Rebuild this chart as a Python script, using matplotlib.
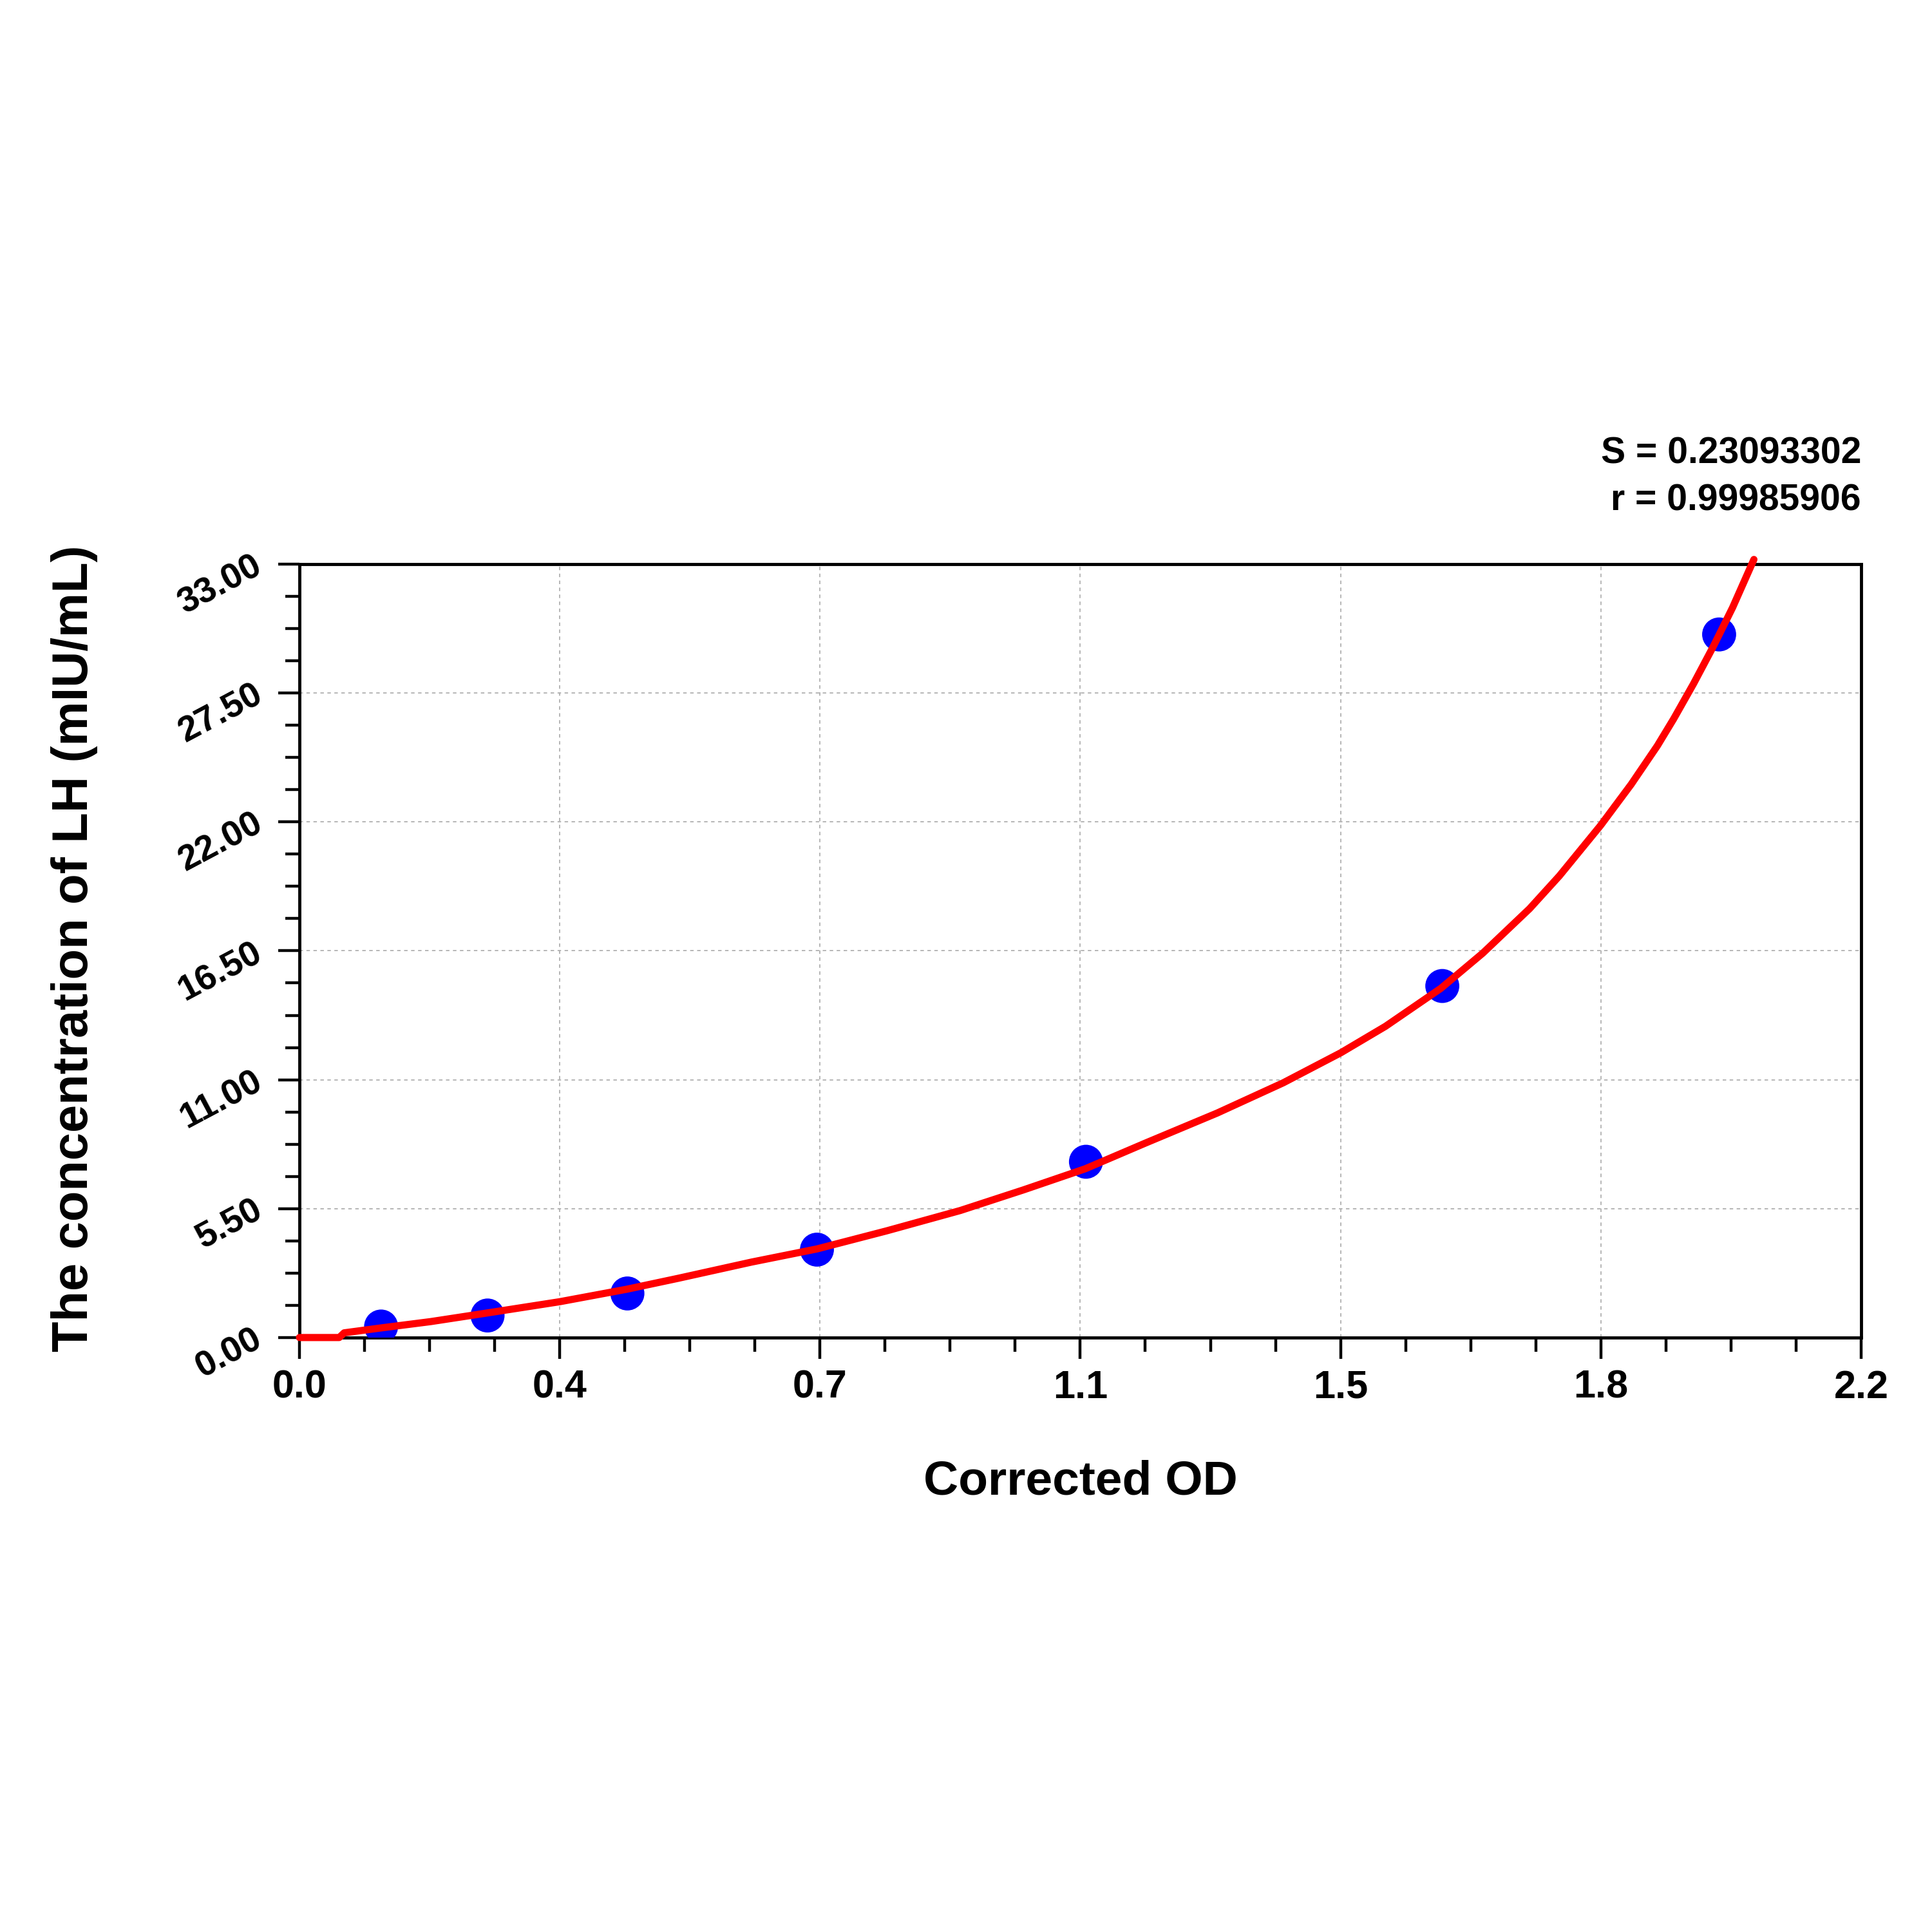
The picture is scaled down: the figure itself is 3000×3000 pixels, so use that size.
import numpy as np
import matplotlib
matplotlib.use('Agg')
import matplotlib.pyplot as plt
from matplotlib.ticker import AutoMinorLocator

plt.rcParams['font.family'] = ['Liberation Sans', 'DejaVu Sans']
plt.rcParams['font.weight'] = 'bold'

# standard points
od_values = [0.115, 0.265, 0.462, 0.729, 1.108, 1.610, 2.000]
conc_values = [0.47, 0.94, 1.88, 3.75, 7.5, 15.0, 30.0]

# fitted curve
curve_od = [0.0, 0.056, 0.063, 0.115, 0.185, 0.265, 0.367, 0.461, 0.534, 0.637,
            0.729, 0.827, 0.931, 1.020, 1.107, 1.192, 1.293, 1.386, 1.467, 1.530,
            1.608, 1.667, 1.733, 1.775, 1.833, 1.876, 1.913, 1.936, 1.964, 1.992,
            2.019, 2.049]
curve_conc = [0.0, 0.0, 0.20, 0.41, 0.68, 1.05, 1.53, 2.06, 2.53, 3.22,
              3.78, 4.55, 5.42, 6.30, 7.20, 8.30, 9.58, 10.87, 12.15, 13.28,
              14.90, 16.40, 18.30, 19.70, 21.85, 23.60, 25.25, 26.40, 27.90, 29.50,
              31.15, 33.20]

x_tick_labels = ['0.0', '0.4', '0.7', '1.1', '1.5', '1.8', '2.2']
y_tick_labels = ['0.00', '5.50', '11.00', '16.50', '22.00', '27.50', '33.00']

fig = plt.figure(figsize=(30, 30), dpi=100)
ax = fig.add_axes([0.155, 0.3077, 0.8083, 0.4003])

ax.scatter(od_values, conc_values, s=38 ** 2, c='#0000ff', edgecolors='none', zorder=3)
ax.plot(curve_od, curve_conc, color='#ff0000', lw=8, zorder=4, clip_on=False,
        solid_capstyle='round', solid_joinstyle='round')

ax.set_xlim(0, 2.2)
ax.set_ylim(0, 33)
ax.set_xticks(np.linspace(0, 2.2, 7))
ax.set_xticklabels(x_tick_labels)
ax.set_yticks(np.linspace(0, 33, 7))
ax.set_yticklabels(y_tick_labels, rotation=28, rotation_mode='anchor', ha='right', va='center')
ax.xaxis.set_minor_locator(AutoMinorLocator(4))
ax.yaxis.set_minor_locator(AutoMinorLocator(4))

ax.tick_params(which='major', direction='out', length=24, width=3.2, colors='black')
ax.tick_params(which='minor', direction='out', length=16, width=3.2, colors='black')
ax.tick_params(axis='x', which='major', labelsize=44, pad=12)
ax.tick_params(axis='y', which='major', labelsize=40, pad=20)
for lab in ax.get_xticklabels() + ax.get_yticklabels():
    lab.set_fontweight('bold')

for sp in ax.spines.values():
    sp.set_linewidth(3.5)
    sp.set_color('black')

ax.grid(True, which='major', linestyle=(0, (3, 3)), linewidth=1.3, color='#b0b0b0')
ax.set_axisbelow(True)

ax.set_xlabel('Corrected OD', fontsize=54, fontweight='bold')
ax.xaxis.set_label_coords(0.5, -0.187)
ax.xaxis.label.set_va('center')
ax.set_ylabel('The concentration of LH (mIU/mL)', fontsize=56, fontweight='bold')
ax.yaxis.set_label_coords(-0.144, 0.503)
ax.yaxis.label.set_va('center')

ax.text(1.0, 1.143, 'S = 0.23093302', transform=ax.transAxes, ha='right', va='center',
        fontsize=41, fontweight='bold')
ax.text(1.0, 1.0824, 'r = 0.99985906', transform=ax.transAxes, ha='right', va='center',
        fontsize=41, fontweight='bold')

fig.savefig('out.png', dpi=100, facecolor='white')
